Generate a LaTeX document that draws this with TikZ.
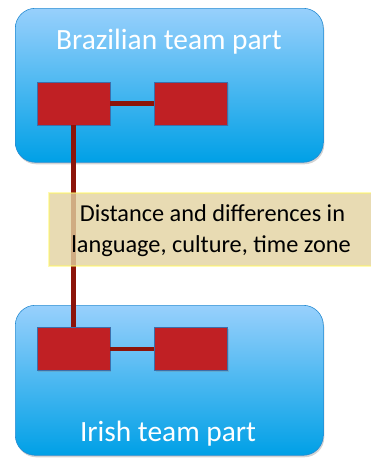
\documentclass[tikz,border=0pt]{standalone}
\usepackage{fontspec}
\setmainfont{Carlito}
\usetikzlibrary{shadows}
\definecolor{boxtop}{RGB}{152,208,252}
\definecolor{boxbot}{RGB}{0,160,230}
\definecolor{boxedge}{RGB}{40,140,210}
\definecolor{redbox}{RGB}{192,32,36}
\definecolor{rededge}{RGB}{60,110,170}
\definecolor{linkcol}{RGB}{140,20,10}
\definecolor{tan}{RGB}{226,210,160}
\begin{document}
\begin{tikzpicture}[x=1pt,y=-1pt,
  team/.style={draw=boxedge,line width=0.6pt,rounded corners=20pt,top color=boxtop,bottom color=boxbot,
    drop shadow={shadow xshift=1pt,shadow yshift=-2pt,opacity=0.35}},
  member/.style={draw=rededge,line width=0.5pt,fill=redbox,minimum width=73pt,minimum height=43pt,inner sep=0pt,
    drop shadow={shadow xshift=1pt,shadow yshift=-1pt,opacity=0.3}},
  link/.style={draw=linkcol,line width=4.5pt},
  label/.style={text=white,font=\fontsize{29.4}{34}\selectfont}]
\useasboundingbox (0,0) rectangle (371,458);
% team parts
\node[team,minimum width=308pt,minimum height=154pt,inner sep=0pt,anchor=north west] (braz) at (15,8) {};
\node[team,minimum width=308pt,minimum height=150pt,inner sep=0pt,anchor=north west] (irish) at (15,305) {};
\node[label] (bl) at (169,42) {Brazilian team part};
\node[label] (il) at (168,434) {Irish team part};
% members
\node[member] (b1) at (73.5,103.5) {};
\node[member] (b2) at (191,103.5) {};
\node[member] (i1) at (73.5,349) {};
\node[member] (i2) at (191,349) {};
% links
\draw[link] (b1.east) -- (b2.west);
\draw[link] (i1.east) -- (i2.west);
\draw[link] (b1.south) -- (i1.north);
% distance note
\node[fill=tan,fill opacity=0.8,draw=yellow!60!white,draw opacity=0.5,line width=1.5pt,
  minimum width=326pt,minimum height=73pt,inner sep=0pt,anchor=north west] (note) at (48,192) {};
\node[align=center,font=\fontsize{24.3}{31}\selectfont] (notetext) at (211,231)
  {\hspace*{3pt}Distance and differences in\\language, culture, time zone};
\end{tikzpicture}
\end{document}
